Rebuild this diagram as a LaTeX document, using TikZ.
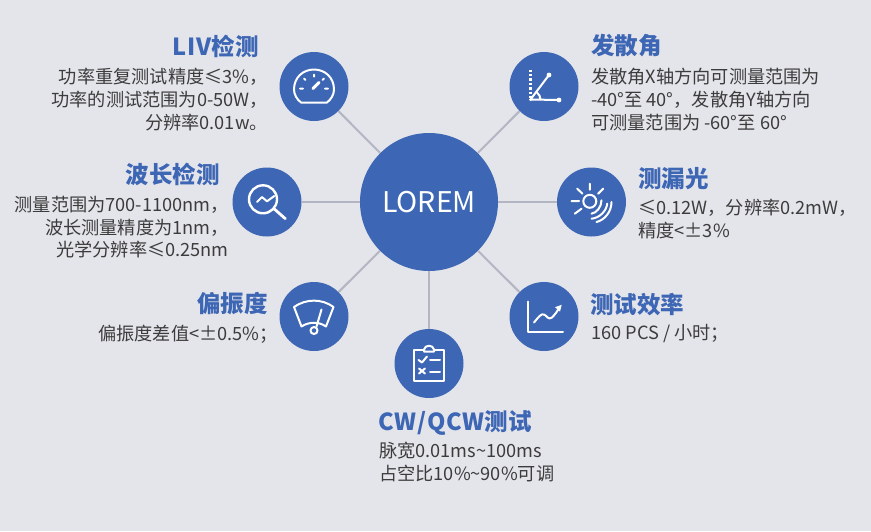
\documentclass[tikz,border=0pt]{standalone}
\usepackage{fontspec}
\setmainfont{Noto Sans CJK SC}
\definecolor{bgcol}{HTML}{E4E5EB}
\definecolor{hubblue}{HTML}{3D66B4}
\definecolor{linkgray}{HTML}{B4B5C2}
\definecolor{bodygray}{HTML}{3C3C3C}
\newcommand{\spaced}[1]{{\addfontfeature{LetterSpace=4}#1}}
\tikzset{
  hub/.style={circle,fill=hubblue,inner sep=0pt,minimum size=138pt,text=white},
  badge/.style={circle,fill=hubblue,inner sep=0pt,minimum size=69pt},
  link/.style={linkgray,line width=2pt},
  glyph/.style={white,line width=2pt,line cap=round,line join=round},
  heading/.style={inner sep=0pt,text=hubblue,font=\fontsize{23.5}{26}\selectfont\bfseries},
  detail/.style={inner sep=0pt,text=bodygray,font=\fontsize{18.2}{22.7}\selectfont},
}
\begin{document}
\begin{tikzpicture}[x=1pt,y=-1pt,line join=round]
  \useasboundingbox (0,0) rectangle (871,531);
  \fill[bgcol] (0,0) rectangle (871,531);
  \node[hub,font=\fontsize{28.5}{30}\selectfont] (center) at (429,202) {LOREM};
  \node[badge] (liv) at (314,86.5) {};
  \node[badge] (wave) at (267,202) {};
  \node[badge] (polar) at (314,316.5) {};
  \node[badge] (cw) at (429,363.5) {};
  \node[badge] (angle) at (544,86.5) {};
  \node[badge] (leak) at (591.5,202) {};
  \node[badge] (rate) at (544,316.5) {};
  \foreach \n in {liv,wave,polar,cw,angle,leak,rate}
    \draw[link] (center) -- (\n);
  % texts
  \node[heading,anchor=east] (livtitle) at (259,46) {\spaced{LIV}检测};
  \node[detail,anchor=north east,align=right] (livtext) at (268,68)
    {功率重复测试精度≤3\%，\\功率的测试范围为0-50W，\\分辨率0.01w。};
  \node[heading,anchor=east] (wavetitle) at (220,174) {波长检测};
  \node[detail,anchor=north east,align=right] (wavetext) at (229,196)
    {测量范围为700-1100nm，\\波长测量精度为1nm，\\光学分辨率≤0.25nm};
  \node[heading,anchor=east] (polartitle) at (268,304) {偏振度};
  \node[detail,anchor=north east,align=right] (polartext) at (278,325)
    {偏振度差值<±0.5\%；};
  \node[heading,anchor=center] (cwtitle) at (455,423) {\spaced{CW/QCW}测试};
  \node[detail,anchor=north west,align=left] (cwtext) at (379,442)
    {脉宽0.01ms\textasciitilde100ms\\占空比10\%\textasciitilde90\%可调};
  \node[heading,anchor=west] (angletitle) at (591,46) {发散角};
  \node[detail,anchor=north west,align=left] (angletext) at (591,68)
    {发散角X轴方向可测量范围为\\-40°至 40°，发散角Y轴方向\\可测量范围为 -60°至 60°};
  \node[heading,anchor=west] (leaktitle) at (638,179) {测漏光};
  \node[detail,anchor=north west,align=left] (leaktext) at (638,199)
    {≤0.12W，分辨率0.2mW，\\精度<±3\%};
  \node[heading,anchor=west] (ratetitle) at (590,305) {测试效率};
  \node[detail,anchor=north west,align=left] (ratetext) at (591,324)
    {160 PCS / 小时；};
  % gauge
  \begin{scope}[shift={(liv)},glyph]
    \draw (-13,16) -- (13,16) .. controls (17,13) and (20,8) .. (20,3)
      .. controls (20,-9) and (11,-17) .. (0,-17)
      .. controls (-11,-17) and (-20,-9) .. (-20,3)
      .. controls (-20,8) and (-17,13) .. (-13,16) -- cycle;
    \draw (-14,2) -- (-11,2) (11,2) -- (14,2) (0,-12) -- (0,-10)
      (-10,-8) -- (-8.5,-6.5) (10,-8) -- (8.5,-6.5);
    \draw[line width=3pt] (-1,2) -- (5,-4);
  \end{scope}
  % magnifier
  \begin{scope}[shift={(wave)},glyph]
    \draw[line width=2.4pt] (-4,-2.7) circle (14);
    \draw[line width=2.8pt] (7,6.7) -- (18.3,16.7);
    \draw (-10,0) -- (-5,-5) -- (0,-0.7) -- (7.3,-6);
  \end{scope}
  % wiper dial
  \begin{scope}[shift={(polar)},glyph]
    \draw (-20,-9.5) .. controls (-8,-18) and (8,-18) .. (19.5,-9.5)
      -- (12,10) .. controls (5,5) and (-5,5) .. (-12.5,10) -- cycle;
    \draw (7.5,-7) -- (2.5,10);
    \draw[fill=hubblue] (0,14) circle (3.5);
  \end{scope}
  % clipboard
  \begin{scope}[shift={(cw)},glyph]
    \draw (-5,-14) -- (-15,-14) -- (-15,17) -- (15,17) -- (15,-14) -- (5,-14);
    \draw (-5,-14) -- (-5,-12) -- (5,-12) -- (5,-14)
      .. controls (4,-19) and (-4,-19) .. (-5,-14);
    \draw (-10.5,-3.5) -- (-7,-1) -- (-2,-7);
    \draw (1,-3.5) -- (11,-3.5) (1,8) -- (11,8);
    \draw (-10,5) -- (-4,10) (-4,5) -- (-10,10);
  \end{scope}
  % angle
  \begin{scope}[shift={(angle)},glyph]
    \draw[dotted,line width=2.4pt,line cap=butt] (-13.5,-17) -- (-13.5,13);
    \draw (-13.5,13) -- (15,13.5) (-13.5,13) -- (5,-11.5);
    \draw (-3.5,13) .. controls (-3.5,10) and (-5,8) .. (-7,6);
    \fill[white] (15,13.5) circle (2.4) (5,-11.5) circle (2.4) (-13.5,13) circle (1.5);
  \end{scope}
  % sun
  \begin{scope}[shift={(leak)},glyph]
    \draw (-1.7,-0.7) circle (6.5);
    \draw (-1.7,-18.3) -- (-1.7,-12.3) (-20,-1) -- (-12.3,-1)
      (-14.3,-13.3) -- (-9,-8.3) (11.7,-13.3) -- (6.7,-8.3) (-16.7,11.7) -- (-10,6.7);
    \draw (0,11.7) .. controls (5,11) and (10,5) .. (10,-1.7);
    \draw (0,16.7) .. controls (8,16) and (15,9) .. (15.7,1.7);
    \draw (5,20) .. controls (13,18) and (20,10) .. (20,0);
  \end{scope}
  % chart
  \begin{scope}[shift={(rate)},glyph]
    \draw (-16,-15) -- (-16,15) -- (19,15);
    \draw (-10,6) .. controls (-5,0) and (-3,-3) .. (0,-2)
      .. controls (3,-1) and (4,4) .. (8,1) .. controls (11,-2) and (13,-5) .. (15,-8);
    \fill[white] (11,-9.3) -- (17.7,-11.7) -- (16,-5) -- cycle;
  \end{scope}
\end{tikzpicture}
\end{document}
